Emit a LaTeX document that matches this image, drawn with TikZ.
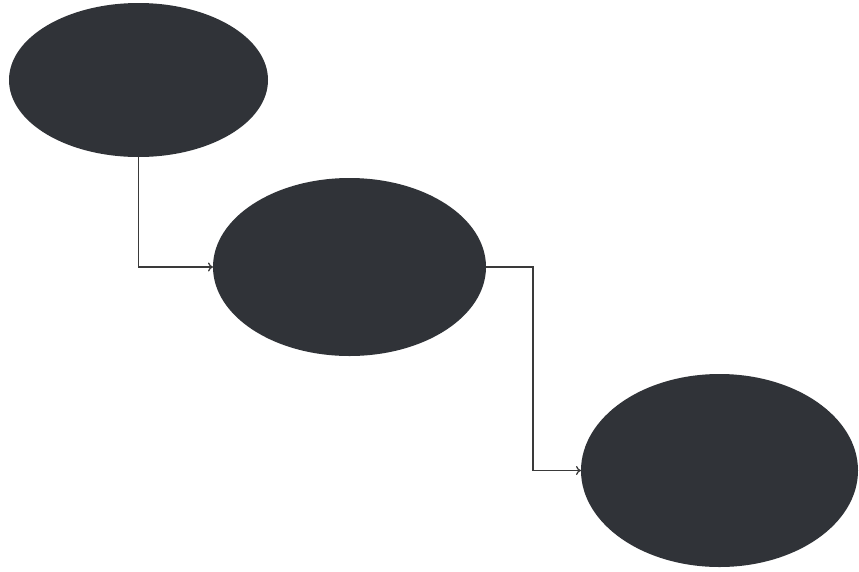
\documentclass[tikz,border=0pt]{standalone}
\usetikzlibrary{shapes.geometric,arrows.meta}
\definecolor{blobfill}{HTML}{303338}
\definecolor{linecol}{HTML}{3a3a3a}
\begin{document}
\begin{tikzpicture}[x=1pt,y=-1pt,
  blob/.style={ellipse,fill=blobfill,inner sep=0pt,outer sep=0pt},
  conn/.style={draw=linecol,line width=1.3pt,-{To[length=5pt,width=9pt]}}]
\fill[white] (0,0) rectangle (859,571);
\useasboundingbox (0,0) rectangle (859,571);
\node[blob,minimum width=259pt,minimum height=154pt] (e1) at (138.5,80) {};
\node[blob,minimum width=273pt,minimum height=178pt] (e2) at (349.5,267) {};
\node[blob,minimum width=277pt,minimum height=193pt] (e3) at (719.5,470.5) {};
\draw[conn] (e1.south) |- (e2.west);
\draw[conn] (e2.east) -- ++(47,0) |- (e3.west);
\end{tikzpicture}
\end{document}
